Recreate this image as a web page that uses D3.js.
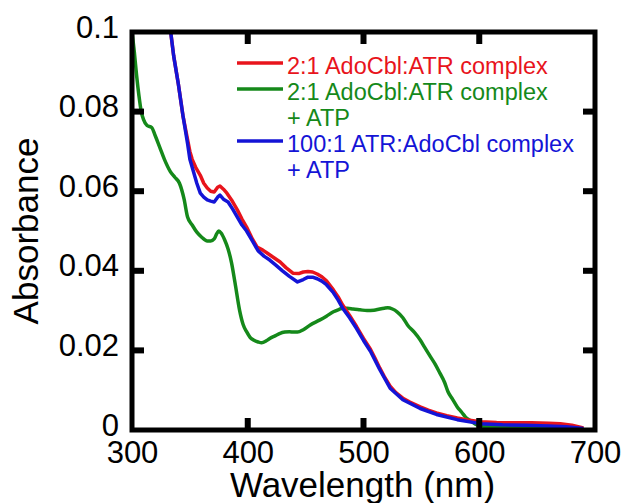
<!DOCTYPE html>
<html lang="en">
<head>
    <meta charset="UTF-8">
    <title>AdoCbl:ATR absorbance spectra</title>
    <script src="https://d3js.org/d3.v7.min.js"></script>
    <style>
        body { margin: 0; background: #fff; }
        text { font-family: "Liberation Sans", Arial, sans-serif; }
    </style>
</head>
<body>
<div id="chart"></div>
<script>
    // Values (wavelength in nm, absorbance)
    const redWl = [333, 336, 340, 344, 348, 350, 352, 355, 359, 362, 365, 368, 371, 374, 376, 379, 382, 386, 391, 395, 399, 404, 408, 413, 417, 422, 428, 433, 439, 444, 448, 452, 456, 460, 464, 468, 474, 478, 482, 488, 494, 500, 506, 510, 514, 518, 523, 528, 534, 540, 549, 556, 563, 572, 581, 590, 601, 615, 630, 645, 660, 670, 680, 690];
    const redAbs = [0.101, 0.094, 0.087, 0.079, 0.073, 0.070, 0.068, 0.066, 0.064, 0.062, 0.0608, 0.060, 0.0598, 0.061, 0.0613, 0.0605, 0.0595, 0.0578, 0.0553, 0.053, 0.051, 0.048, 0.046, 0.0452, 0.0444, 0.0434, 0.0422, 0.0408, 0.0394, 0.0393, 0.0397, 0.0398, 0.0397, 0.0392, 0.0385, 0.0375, 0.0352, 0.0335, 0.0314, 0.0288, 0.026, 0.023, 0.0203, 0.018, 0.0156, 0.0134, 0.0110, 0.0094, 0.0080, 0.0070, 0.0058, 0.0050, 0.0043, 0.0036, 0.0030, 0.0025, 0.0021, 0.0019, 0.0018, 0.0018, 0.0017, 0.0016, 0.0012, 0.0005];

    const greenWl = [300, 302, 304, 306, 308, 310, 313, 317, 320, 324, 328, 333, 337, 341, 345, 348, 352, 356, 360, 365, 368, 371, 373, 375, 377, 380, 383, 386, 389, 393, 396, 399, 402, 405, 409, 412, 416, 419, 424, 428, 432, 436, 440, 443, 448, 454, 462, 468, 474, 479, 482, 486, 491, 497, 503, 509, 514, 518, 521, 525, 529, 534, 538, 544, 549, 553, 557, 562, 566, 570, 573, 577, 581, 585, 588, 591, 594, 598, 605, 620, 640, 660, 680, 690];
    const greenAbs = [0.1, 0.095, 0.089, 0.084, 0.080, 0.078, 0.0765, 0.076, 0.074, 0.071, 0.068, 0.065, 0.0635, 0.062, 0.058, 0.0535, 0.0515, 0.0497, 0.0485, 0.0475, 0.0475, 0.048, 0.0492, 0.050, 0.0495, 0.0478, 0.0455, 0.042, 0.037, 0.030, 0.0265, 0.0247, 0.0233, 0.0226, 0.0221, 0.0219, 0.0224, 0.023, 0.0237, 0.0243, 0.0246, 0.0247, 0.0246, 0.0246, 0.0252, 0.0264, 0.0276, 0.0286, 0.0297, 0.0303, 0.0306, 0.0306, 0.0304, 0.0302, 0.0300, 0.0301, 0.0304, 0.0306, 0.0307, 0.0304, 0.0297, 0.0282, 0.0264, 0.0245, 0.0226, 0.0207, 0.0188, 0.0165, 0.0143, 0.0120, 0.0096, 0.0077, 0.0058, 0.0044, 0.0033, 0.0026, 0.002, 0.0013, 0.0009, 0.0007, 0.0006, 0.0005, 0.0004, 0.0003];

    const blueWl = [333, 336, 340, 344, 348, 350, 353, 356, 359, 362, 365, 368, 371, 374, 376, 379, 383, 387, 391, 395, 399, 404, 409, 414, 419, 424, 430, 436, 443, 448, 452, 456, 460, 464, 468, 474, 478, 482, 488, 494, 500, 506, 514, 523, 534, 549, 563, 581, 601, 620, 640, 660, 675, 690];
    const blueAbs = [0.101, 0.094, 0.087, 0.079, 0.072, 0.068, 0.065, 0.062, 0.0595, 0.0585, 0.0578, 0.0575, 0.0573, 0.0585, 0.059, 0.058, 0.0573, 0.0555, 0.0535, 0.0515, 0.050, 0.0475, 0.045, 0.0437, 0.0427, 0.0415, 0.040, 0.0386, 0.0372, 0.0378, 0.0384, 0.0384, 0.0380, 0.0374, 0.0365, 0.0345, 0.0327, 0.0306, 0.0282, 0.0255, 0.0225, 0.0198, 0.0152, 0.0105, 0.0076, 0.0054, 0.0039, 0.0026, 0.0016, 0.0013, 0.0012, 0.0010, 0.0008, 0.0004];

    const xTicks = [300, 400, 500, 600, 700];
    const yTicks = [0, 0.02, 0.04, 0.06, 0.08, 0.1];
    const yTickLabels = ["0", "0.02", "0.04", "0.06", "0.08", "0.1"];

    const legendLabels = [
        ["2:1 AdoCbl:ATR complex"],
        ["2:1 AdoCbl:ATR complex", "+ ATP"],
        ["100:1 ATR:AdoCbl complex", "+ ATP"]
    ];
    const seriesColors = ["#e8141c", "#15891a", "#1414d6"];

    const W = 625, H = 503;
    const margin = {top: 32, right: 30, bottom: 73, left: 132};
    const plotW = W - margin.left - margin.right,
          plotH = H - margin.top - margin.bottom;

    const svg = d3.select("#chart").append("svg")
        .attr("width", W)
        .attr("height", H);

    const defs = svg.append("defs");
    defs.append("clipPath").attr("id", "plotclip")
      .append("rect").attr("width", plotW).attr("height", plotH);

    const g = svg.append("g")
        .attr("transform", `translate(${margin.left},${margin.top})`);

    const x = d3.scaleLinear().domain([300, 700]).range([0, plotW]);
    const y = d3.scaleLinear().domain([0, 0.1]).range([plotH, 0]);

    const toPoints = (wl, a) => wl.map((w, i) => ({wl: w, a: a[i]}));
    const series = [
        {pts: toPoints(redWl, redAbs), color: seriesColors[0], curve: d3.curveLinear},
        {pts: toPoints(greenWl, greenAbs), color: seriesColors[1], curve: d3.curveMonotoneX},
        {pts: toPoints(blueWl, blueAbs), color: seriesColors[2], curve: d3.curveLinear}
    ];

    // green underneath, then red, then blue
    const drawOrder = [1, 0, 2];
    const plot = g.append("g").attr("clip-path", "url(#plotclip)");
    drawOrder.forEach(i => {
        const s = series[i];
        plot.append("path")
            .datum(s.pts)
            .attr("fill", "none")
            .attr("stroke", s.color)
            .attr("stroke-width", 3.5)
            .attr("stroke-linejoin", "round")
            .attr("d", d3.line().x(d => x(d.wl)).y(d => y(d.a)).curve(s.curve));
    });

    // Tick labels from the axes
    g.append("g")
        .attr("transform", `translate(0,${plotH})`)
        .call(d3.axisBottom(x).tickValues(xTicks).tickSize(0).tickFormat(d3.format("d")))
        .call(a => a.select(".domain").remove())
        .call(a => a.selectAll("text")
            .attr("font-size", 31)
            .attr("font-family", "Liberation Sans, Arial, sans-serif")
            .attr("fill", "#000")
            .attr("dy", null)
            .attr("y", 33));

    g.append("g")
        .call(d3.axisLeft(y).tickValues(yTicks).tickSize(0).tickFormat((d, i) => yTickLabels[i]))
        .call(a => a.select(".domain").remove())
        .call(a => a.selectAll("text")
            .attr("font-size", 31)
            .attr("font-family", "Liberation Sans, Arial, sans-serif")
            .attr("fill", "#000")
            .attr("x", -13)
            .attr("dy", null)
            .attr("y", 5));

    // Frame
    g.append("rect")
        .attr("width", plotW)
        .attr("height", plotH)
        .attr("fill", "none")
        .attr("stroke", "#000")
        .attr("stroke-width", 5);

    // Axis titles
    svg.append("text")
        .attr("x", margin.left + plotW / 2 - 1)
        .attr("y", 497)
        .attr("text-anchor", "middle")
        .attr("font-size", 35)
        .text("Wavelength (nm)");

    svg.append("text")
        .attr("transform", `translate(38,${margin.top + plotH / 2}) rotate(-90)`)
        .attr("text-anchor", "middle")
        .attr("font-size", 35)
        .text("Absorbance");

    // Legend
    const legend = svg.append("g");
    const rowH = 26;
    let row = 0;
    legendLabels.forEach((lines, i) => {
        const baseY = 74 + row * rowH;
        legend.append("line")
            .attr("x1", 237).attr("x2", 283)
            .attr("y1", baseY - 11).attr("y2", baseY - 11)
            .attr("stroke", seriesColors[i])
            .attr("stroke-width", 3.5);
        lines.forEach((t, j) => {
            legend.append("text")
                .attr("x", 287)
                .attr("y", baseY + j * rowH)
                .attr("font-size", 23.5)
                .attr("fill", seriesColors[i])
                .text(t);
        });
        row += lines.length;
    });

    // Inward tick marks on all four sides, drawn last as rects
    const tickLen = 12, tickW = 6;
    const tickG = svg.append("g")
        .attr("transform", `translate(${margin.left},${margin.top})`)
        .attr("fill", "#000");
    const innerX = xTicks.slice(1, -1), innerY = yTicks.slice(1, -1);
    innerX.forEach(v => {
        tickG.append("rect").attr("x", x(v) - tickW / 2).attr("y", plotH - tickLen)
            .attr("width", tickW).attr("height", tickLen);
        tickG.append("rect").attr("x", x(v) - tickW / 2).attr("y", 0)
            .attr("width", tickW).attr("height", tickLen);
    });
    innerY.forEach(v => {
        tickG.append("rect").attr("x", 0).attr("y", y(v) - tickW / 2)
            .attr("width", tickLen).attr("height", tickW);
        tickG.append("rect").attr("x", plotW - tickLen).attr("y", y(v) - tickW / 2)
            .attr("width", tickLen).attr("height", tickW);
    });
</script>
</body>
</html>
